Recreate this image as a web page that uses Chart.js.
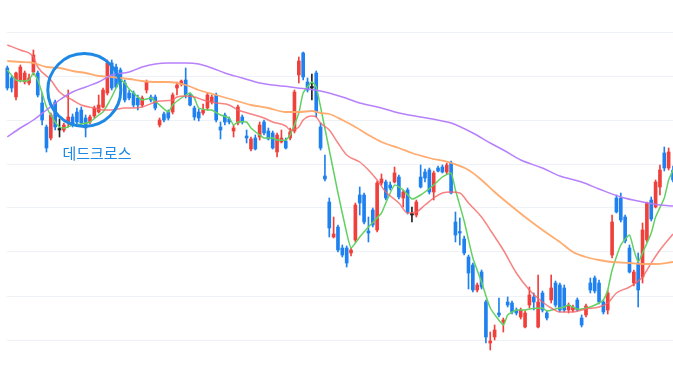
<!DOCTYPE html>
<html><head><meta charset="utf-8">
<script src="https://cdn.jsdelivr.net/npm/chart.js@4.4.0/dist/chart.umd.min.js"></script>
<style>html,body{margin:0;padding:0;background:#fff;overflow:hidden}#wrap{width:673px;height:369px}</style>
</head><body><div id="wrap"><canvas id="c" width="673" height="369"></canvas></div>
<script>
// Daily OHLC (price units)
const opens = [3160,3060,2870,3040,3020,3010,3120,3110,2810,2570,2460,2820,2540,2540,2620,2670,2720,2740,2660,2620,2680,2720,2770,2910,3210,3170,3140,3010,2910,2910,2860,2790,2940,2870,2870,2590,2700,2720,2720,2960,3000,3040,2890,2760,2720,2710,2760,2820,2890,2570,2690,2650,2530,2610,2670,2480,2350,2460,2470,2620,2530,2510,2320,2420,2430,2460,2530,3090,3310,3020,2960,3110,2570,2080,1820,1470,1570,1360,1360,1310,1440,1890,1890,1530,1740,1540,2010,2020,1990,2020,2070,1860,1940,1690,1690,2070,2120,2140,1920,2160,2170,2120,2210,1620,1520,1450,1270,1190,940,1120,820,410,470,710,620,820,810,740,670,570,790,870,570,910,710,840,1010,990,960,740,740,840,660,690,1010,1060,1010,820,740,1290,1860,1860,1670,1360,1010,1210,1070,1440,1840,1770,1970,2310,2160,2140];
const highs = [3180,3080,3120,3190,3130,3100,3340,3130,2910,2590,2710,2840,2650,2610,2940,2700,2760,2770,2690,2690,2780,2890,2960,3240,3240,3200,3160,3040,2940,2930,2890,2880,3040,2890,2890,2660,2720,2740,2910,3020,3040,3160,2910,2780,2750,2800,2910,2890,2910,2620,2710,2670,2590,2790,2690,2540,2470,2490,2620,2640,2560,2530,2510,2540,2460,2560,2940,3270,3320,3060,3100,3130,2610,2290,1860,1670,1590,1390,1380,1360,1810,1970,1910,1670,1760,2030,2100,2040,2020,2170,2090,1940,1960,1770,1840,2190,2150,2160,2130,2180,2190,2210,2230,1720,1660,1480,1290,1210,1010,1140,840,520,590,860,660,870,830,760,760,730,970,910,1090,930,730,1090,1030,1010,990,810,790,860,690,800,1060,1080,1040,840,940,1690,1890,1910,1690,1390,1140,1310,1610,1820,1870,2040,2190,2370,2360,2180];
const lows = [2940,2920,2840,3020,3000,2990,3090,2870,2590,2320,2440,2540,2470,2520,2570,2570,2600,2580,2470,2600,2660,2710,2760,2890,2940,2960,3000,2820,2840,2770,2740,2770,2910,2820,2740,2570,2620,2640,2700,2890,2980,2860,2780,2640,2630,2690,2740,2800,2620,2450,2590,2600,2470,2590,2600,2410,2330,2340,2440,2490,2440,2350,2270,2410,2350,2440,2510,3010,3040,2920,2840,2670,2340,2030,1470,1460,1320,1270,1170,1280,1420,1690,1600,1420,1570,1520,1990,1840,1940,2010,1850,1770,1700,1620,1670,1960,2020,1900,1840,2120,2110,2100,1900,1420,1390,1290,950,920,920,950,410,340,440,670,520,770,700,690,650,560,760,740,560,720,640,810,770,720,720,710,720,730,570,670,910,910,800,700,700,1260,1710,1620,1410,1110,980,770,1010,1420,1630,1760,1890,2130,2140,2020];
const closes = [2960,2960,3110,3170,3110,3060,3290,2890,2640,2360,2690,2570,2540,2590,2670,2590,2620,2610,2560,2670,2760,2790,2940,3210,2960,2970,3020,2840,2860,2790,2790,2860,3020,2840,2760,2640,2640,2660,2890,2990,3030,2890,2790,2670,2660,2740,2890,2870,2640,2540,2620,2620,2560,2770,2620,2460,2450,2350,2590,2510,2450,2360,2490,2460,2360,2520,2920,3230,3070,2940,2960,2720,2360,2050,1560,1500,1340,1290,1210,1340,1790,1810,1620,1510,1590,2010,2050,1860,1960,2110,1870,1920,1720,1690,1820,1970,2060,1920,2110,2130,2120,2190,1910,1490,1510,1310,1110,940,990,970,470,430,540,690,640,790,720,710,740,710,890,820,820,740,660,960,790,740,740,790,770,740,590,780,940,930,820,720,910,1620,1720,1640,1430,1120,1120,940,1540,1810,1650,2020,2140,2160,2320,2040];
const days = opens.map((_, i) => i);

// Moving averages: day index + value
const ma5At = [0,2,4,5,6,7,8,9,11,12,13,14,15,17,19,21,22,23,24,25,26,27,28,31,32,33,35,37,38,40,42,43,44,46,47,49,51,52,53,55,56,58,59,61,62,64,65,67,68,70,71,72,74,76,78,79,81,83,86,87,89,91,93,95,98,100,102,103,105,107,109,111,114,115,117,119,120,123,124,126,128,129,130,131,132,134,136,137,138,139,141,143,144,145,146,148,149,151,152,153];
const ma5 = [3140,3040,3030,3040,3110,3040,2910,2770,2620,2570,2560,2570,2590,2600,2620,2690,2720,2790,2870,2960,3040,3010,2950,2840,2850,2860,2790,2720,2790,2860,2910,2860,2760,2740,2740,2690,2660,2590,2620,2620,2560,2490,2460,2460,2440,2440,2490,2710,2910,3020,2970,2770,2340,1910,1510,1360,1470,1570,1710,1810,1990,1940,1850,1890,1990,2070,2110,1940,1630,1260,1020,760,590,690,740,740,750,760,730,750,770,790,770,750,750,770,810,840,940,1140,1390,1490,1340,1220,1310,1510,1670,1860,2040,2140];
const ma20At = [0,3,6,7,10,12,15,17,20,22,24,27,29,31,35,38,39,41,43,45,48,51,53,56,59,61,64,65,67,68,70,71,72,74,76,78,81,83,85,87,90,92,94,96,98,100,102,104,106,109,111,114,117,120,123,125,127,130,133,136,138,140,143,146,148,150,153];
const ma20 = [3390,3340,3270,3170,3040,2920,2840,2790,2760,2740,2740,2760,2760,2770,2830,2840,2870,2880,2870,2840,2810,2790,2740,2700,2660,2620,2580,2540,2570,2640,2680,2670,2610,2540,2410,2290,2220,2140,2040,1920,1810,1710,1720,1790,1860,1910,1920,1910,1810,1670,1540,1340,1110,940,820,760,720,720,750,770,810,910,970,1070,1210,1340,1500];
const ma60At = [0,3,6,9,12,15,18,21,24,28,31,34,37,41,44,48,52,56,60,64,67,70,72,74,77,80,83,86,90,93,97,102,106,109,112,115,119,123,127,130,133,136,139,143,146,149,153];
const ma60 = [3230,3220,3210,3170,3160,3130,3110,3080,3070,3050,3030,3020,3020,2990,2940,2890,2840,2790,2760,2720,2720,2730,2710,2700,2640,2570,2490,2420,2360,2310,2260,2210,2140,2040,1920,1810,1670,1540,1420,1320,1270,1240,1220,1210,1200,1200,1220];
const ma120At = [0,3,6,9,12,15,18,21,24,28,31,34,37,41,44,47,50,54,58,61,65,69,72,77,81,86,90,95,100,102,107,111,114,118,123,127,132,136,141,146,150,153];
const ma120 = [2470,2560,2640,2740,2840,2920,2970,3020,3090,3120,3170,3200,3210,3210,3200,3160,3110,3060,3010,2990,2970,2950,2930,2870,2810,2760,2710,2670,2630,2610,2510,2410,2340,2240,2160,2080,2020,1950,1870,1820,1790,1780];

const gridLevels = [440,880,1320,1760,2200,2640,3080,3520];

const crossLabel = '데드크로스';
const crossMark = {day: 17.7, price: 2940};
const labelAt = {day: 20.6, price: 2310};

const RED = '#f0403c', BLUE = '#1f80f0', DOJI = '#222222';
const candleColor = i => closes[i] > opens[i] ? RED : (closes[i] < opens[i] ? BLUE : DOJI);
const pts = (at, vals) => at.map((d, k) => ({x: d, y: vals[k]}));

const lineDs = (at, vals, color, width, tension, mono) => ({
  type: 'line', data: pts(at, vals), borderColor: color, borderWidth: width,
  pointRadius: 0, tension: tension, cubicInterpolationMode: mono ? 'monotone' : 'default',
  fill: false, order: 2, clip: false
});

const textPlugin = {
  id: 'crossText',
  afterDatasetsDraw(chart) {
    const {ctx, scales: {x, y}} = chart;
    ctx.save();
    ctx.font = '15px "Noto Sans CJK KR", "Noto Sans", sans-serif';
    ctx.fillStyle = '#1e88e5';
    ctx.textAlign = 'center';
    ctx.textBaseline = 'middle';
    ctx.fillText(crossLabel, x.getPixelForValue(labelAt.day), y.getPixelForValue(labelAt.price));
    ctx.restore();
  }
};

// circle marker: only the middle point is visible (keeps Chart.js from padding the layout for it)
const markPts = [crossMark, crossMark, crossMark].map(p => ({x: p.day, y: p.price}));
const onlyMid = (v) => (c) => c.dataIndex === 1 ? v : 0;

const ds = [
  {type: 'bar', data: days.map(i => [lows[i], highs[i]]), backgroundColor: c => candleColor(c.dataIndex),
   barThickness: 1, grouped: false, borderWidth: 0, order: 6, clip: false},
  {type: 'bar', data: days.map(i => [opens[i], closes[i]]), backgroundColor: c => candleColor(c.dataIndex),
   barThickness: 3, minBarLength: 1.5, grouped: false, borderWidth: 0, borderSkipped: false, order: 5, clip: false},
  lineDs(ma120At, ma120, 'rgba(178,122,250,0.95)', 1.5, 0.4, true),
  lineDs(ma60At, ma60, 'rgba(255,168,105,0.95)', 1.8, 0.4, true),
  lineDs(ma20At, ma20, 'rgba(246,100,100,0.8)', 1.5, 0.4, true),
  lineDs(ma5At, ma5, '#62d162', 1.5, 0.15, false),
  {type: 'line', showLine: false, data: markPts, borderWidth: 0,
   pointRadius: onlyMid(36.5), pointHoverRadius: onlyMid(36.5), pointBorderWidth: onlyMid(3),
   pointBorderColor: '#1e88e5', pointBackgroundColor: 'rgba(0,0,0,0)', order: 0, clip: false}
];

new Chart(document.getElementById('c'), {
  type: 'bar',
  data: {labels: days, datasets: ds},
  options: {
    responsive: false, animation: false, devicePixelRatio: 1, events: [],
    layout: {padding: {left: 7, right: 0, top: 0, bottom: 0}},
    plugins: {legend: {display: false}, tooltip: {enabled: false}},
    scales: {
      x: {type: 'linear', display: false, min: -0.07, max: 153, offset: false},
      y: {type: 'linear', min: 150, max: 3840, position: 'left',
          ticks: {display: false}, border: {display: false},
          grid: {color: '#eef1f5', lineWidth: 1, drawTicks: false},
          afterBuildTicks: s => { s.ticks = gridLevels.map(v => ({value: v})); }}
    }
  },
  plugins: [textPlugin]
});
</script>
</body></html>
